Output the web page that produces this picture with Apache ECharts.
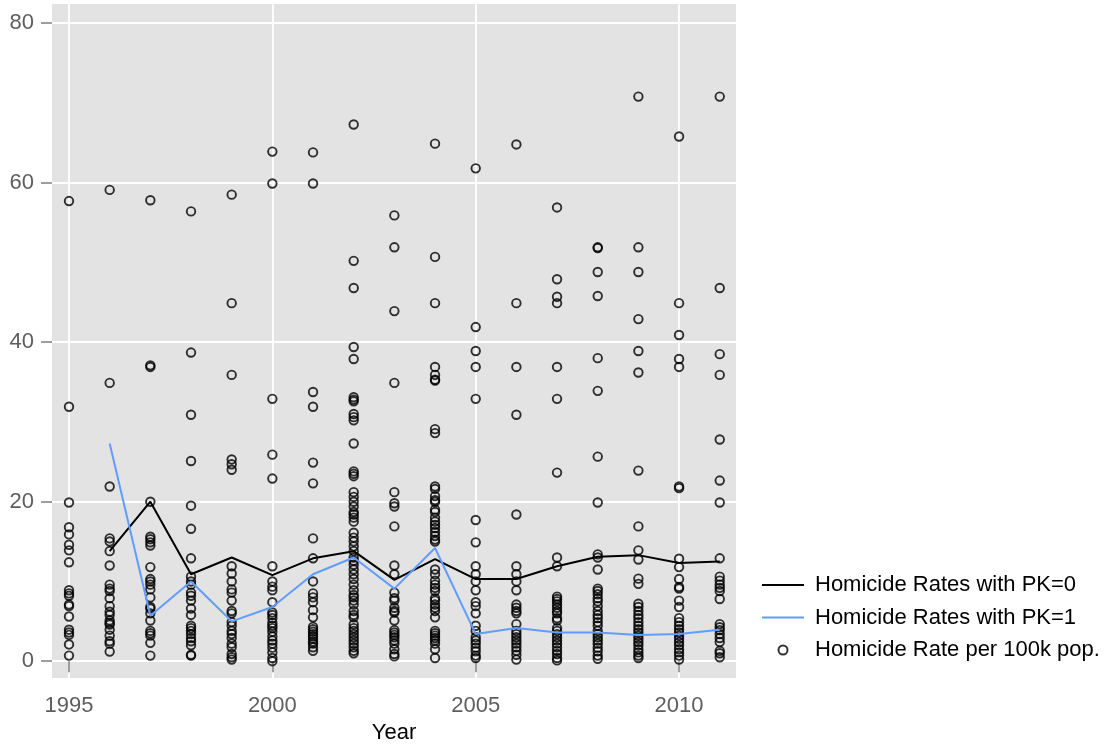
<!DOCTYPE html>
<html>
<head>
<meta charset="utf-8">
<script src="https://cdn.jsdelivr.net/npm/echarts@6/dist/echarts.min.js"></script>
<style>
  html, body { margin: 0; padding: 0; background: #fff; }
  #chart { width: 1112px; height: 749px; }
</style>
</head>
<body>
<div id="chart"></div>
<script>
const years = [1995, 1996, 1997, 1998, 1999, 2000, 2001, 2002, 2003, 2004, 2005, 2006, 2007, 2008, 2009, 2010, 2011]
const xTicks = [1995, 2000, 2005, 2010]
const yTicks = [0, 20, 40, 60, 80]

// mean rate by group, starts in 1996
const pk0Years = [1996, 1997, 1998, 1999, 2000, 2001, 2002, 2003, 2004, 2005, 2006, 2007, 2008, 2009, 2010, 2011]
const pk0 = [13.8, 20.0, 10.9, 13.0, 10.8, 12.9, 13.8, 10.2, 12.8, 10.3, 10.3, 11.9, 13.1, 13.3, 12.3, 12.5]
const pk1 = [27.3, 5.7, 10.0, 5.0, 6.8, 10.9, 13.0, 9.1, 14.2, 3.4, 4.15, 3.6, 3.6, 3.3, 3.4, 3.95]

// one list of observed rates per year
const rates = [
  [57.7, 31.9, 19.9, 16.8, 15.9, 14.6, 13.9, 12.4, 8.9, 8.5, 8.2, 7.1, 6.9, 5.6, 3.95, 3.6, 3.3, 2.1, 0.7],
  [59.1, 34.9, 21.9, 15.4, 15.0, 13.8, 12.0, 9.6, 9.1, 8.8, 7.9, 6.9, 6.2, 5.8, 5.1, 4.8, 4.6, 3.95, 3.2, 2.5, 2.2, 1.2],
  [57.8, 37.1, 36.9, 20.0, 15.6, 15.3, 14.9, 14.5, 11.8, 10.3, 10.0, 9.6, 9.0, 8.0, 6.8, 6.6, 6.0, 5.1, 3.8, 3.5, 3.2, 2.3, 0.7],
  [56.4, 38.7, 30.9, 25.1, 19.5, 16.6, 12.9, 10.6, 10.0, 9.6, 8.6, 8.2, 7.6, 6.6, 5.8, 4.45, 4.15, 3.8, 3.4, 2.9, 2.5, 2.0, 0.8, 0.7],
  [58.5, 44.9, 35.9, 25.3, 24.7, 24.0, 11.9, 11.0, 10.0, 9.0, 8.6, 7.6, 6.3, 6.0, 4.9, 4.45, 3.8, 3.4, 2.9, 2.2, 1.75, 0.9, 0.5, 0.2],
  [63.9, 59.9, 32.9, 25.9, 22.9, 11.9, 10.0, 9.35, 8.9, 7.4, 6.1, 5.8, 5.4, 4.8, 4.45, 4.15, 3.7, 3.1, 2.6, 2.2, 1.7, 1.1, 0.4, 0.0],
  [63.8, 59.9, 33.75, 31.9, 24.9, 22.3, 15.4, 12.9, 10.0, 8.5, 8.0, 7.4, 6.4, 5.5, 4.3, 4.0, 3.7, 3.4, 3.1, 2.8, 2.45, 2.2, 1.75, 1.3],
  [67.3, 50.2, 46.8, 39.4, 37.9, 33.1, 32.8, 32.6, 31.0, 30.6, 30.2, 27.3, 23.8, 23.5, 23.2, 21.2, 20.6, 20.0, 19.4, 18.7, 18.4, 18.0, 17.5, 16.1, 15.5, 15.0, 14.4, 13.8, 13.0, 12.6, 12.1, 11.5, 10.9, 10.3, 9.6, 8.9, 8.3, 8.0, 7.6, 7.1, 6.3, 5.8, 5.5, 4.6, 4.15, 3.8, 3.4, 3.0, 2.6, 2.2, 1.75, 1.3, 1.0],
  [55.9, 51.9, 43.9, 34.9, 21.2, 19.8, 19.4, 16.9, 12.0, 10.9, 8.6, 7.9, 7.6, 6.7, 6.3, 6.1, 5.1, 3.9, 3.6, 3.3, 3.0, 2.6, 2.2, 1.5, 0.9, 0.6],
  [64.9, 50.7, 44.9, 36.9, 35.9, 35.3, 35.2, 29.1, 28.6, 21.9, 21.6, 20.7, 20.2, 20.0, 19.0, 18.7, 18.0, 17.5, 17.1, 16.7, 16.2, 15.7, 15.25, 15.0, 11.5, 10.9, 10.1, 9.6, 9.2, 8.8, 7.9, 7.6, 7.1, 6.7, 6.3, 5.5, 3.8, 3.5, 3.2, 2.9, 2.6, 2.2, 1.5, 0.4],
  [61.8, 41.9, 38.9, 36.9, 32.9, 17.7, 14.9, 11.9, 10.9, 10.0, 8.9, 7.4, 6.9, 6.0, 4.45, 3.8, 3.0, 2.6, 2.2, 1.7, 1.25, 0.7, 0.4],
  [64.8, 44.9, 36.9, 30.9, 18.4, 11.9, 10.9, 10.0, 8.9, 7.1, 6.7, 6.3, 6.0, 4.65, 3.8, 3.4, 3.0, 2.6, 2.2, 1.75, 1.3, 0.8, 0.2],
  [56.9, 47.9, 45.7, 44.9, 36.9, 32.9, 23.65, 13.0, 11.9, 8.1, 7.8, 7.5, 7.1, 6.7, 6.3, 6.0, 5.4, 5.1, 4.15, 3.8, 3.4, 3.0, 2.6, 2.2, 1.75, 1.3, 0.9, 0.4, 0.1],
  [51.9, 51.8, 48.8, 45.8, 38.0, 33.9, 25.65, 19.9, 13.4, 13.0, 11.5, 9.1, 8.8, 8.4, 7.9, 7.5, 6.9, 6.3, 5.8, 5.4, 4.9, 4.45, 3.8, 3.4, 3.0, 2.6, 2.2, 1.7, 1.25, 0.7, 0.3],
  [70.8, 51.9, 48.8, 42.9, 38.9, 36.2, 23.9, 16.9, 13.9, 12.75, 10.35, 9.7, 7.2, 6.8, 6.3, 5.8, 5.4, 4.9, 4.45, 4.0, 3.6, 3.2, 2.8, 2.4, 2.0, 1.5, 1.1, 0.7, 0.4],
  [65.8, 44.9, 40.9, 37.9, 36.9, 21.9, 21.7, 12.85, 11.8, 10.3, 9.3, 9.1, 7.6, 6.8, 5.4, 4.9, 4.45, 4.0, 3.6, 3.2, 2.8, 2.4, 2.0, 1.5, 1.1, 0.7, 0.2],
  [70.8, 46.8, 38.5, 35.9, 27.8, 22.65, 19.9, 12.9, 10.6, 10.1, 9.6, 9.2, 8.8, 7.8, 4.65, 4.25, 3.9, 3.4, 2.9, 2.4, 1.3, 1.0, 0.5],
]

const FONT = 'Liberation Sans'
const tickGrey = '#7f7f7f'
const labelGrey = '#5e5e5e'
const lineIcon = 'path://M0,0H42V2H0Z'

const points = []
years.forEach((yr, i) => rates[i].forEach(v => points.push([yr, v])))

const chart = echarts.init(document.getElementById('chart'), null, { renderer: 'canvas' })
chart.setOption({
  animation: false,
  backgroundColor: '#fff',
  textStyle: { fontFamily: FONT },
  grid: { left: 52, right: 376, top: 4, bottom: 68, show: true, backgroundColor: '#e3e3e3', borderWidth: 0 },
  xAxis: {
    type: 'value',
    min: 1994.582,
    max: 2011.4,
    name: 'Year',
    nameLocation: 'middle',
    nameGap: 42,
    nameTextStyle: { color: '#000', fontSize: 22, fontFamily: FONT },
    axisLine: { show: false },
    axisTick: { show: true, length: 11, customValues: xTicks, lineStyle: { color: tickGrey, width: 1.5 } },
    axisLabel: { customValues: xTicks, color: labelGrey, fontSize: 22, margin: 17, fontFamily: FONT, formatter: v => String(v) },
    splitLine: { show: true, lineStyle: { color: '#fff', width: 1.8 } },
  },
  yAxis: {
    type: 'value',
    min: -2.12,
    max: 82.41,
    axisLine: { show: false },
    axisTick: { show: true, length: 11, customValues: yTicks, lineStyle: { color: tickGrey, width: 1.5 } },
    axisLabel: { customValues: yTicks, color: labelGrey, fontSize: 22, margin: 18, fontFamily: FONT },
    splitLine: { show: true, lineStyle: { color: '#fff', width: 1.8 } },
  },
  legend: {
    orient: 'vertical',
    left: 757,
    top: 569,
    itemWidth: 42,
    itemHeight: 9,
    itemGap: 10.5,
    textStyle: { fontSize: 22, color: '#000', fontFamily: FONT, padding: [0, 0, 0, 6] },
    data: [
      { name: 'Homicide Rates with PK=0', icon: lineIcon },
      { name: 'Homicide Rates with PK=1', icon: lineIcon },
      { name: 'Homicide Rate per 100k pop.' },
    ],
  },
  series: [
    {
      name: 'Homicide Rate per 100k pop.',
      type: 'scatter',
      data: points,
      symbol: 'circle',
      symbolSize: 8.5,
      itemStyle: { color: 'rgba(0,0,0,0)', borderColor: '#000', borderWidth: 1.9 },
      z: 3,
    },
    {
      name: 'Homicide Rates with PK=0',
      type: 'line',
      data: pk0Years.map((y, i) => [y, pk0[i]]),
      symbol: 'none',
      lineStyle: { color: '#000', width: 2 },
      itemStyle: { color: '#000' },
      z: 4,
    },
    {
      name: 'Homicide Rates with PK=1',
      type: 'line',
      data: pk0Years.map((y, i) => [y, pk1[i]]),
      symbol: 'none',
      lineStyle: { color: '#619cff', width: 2 },
      itemStyle: { color: '#619cff' },
      z: 4,
    },
  ],
})
</script>
</body>
</html>
